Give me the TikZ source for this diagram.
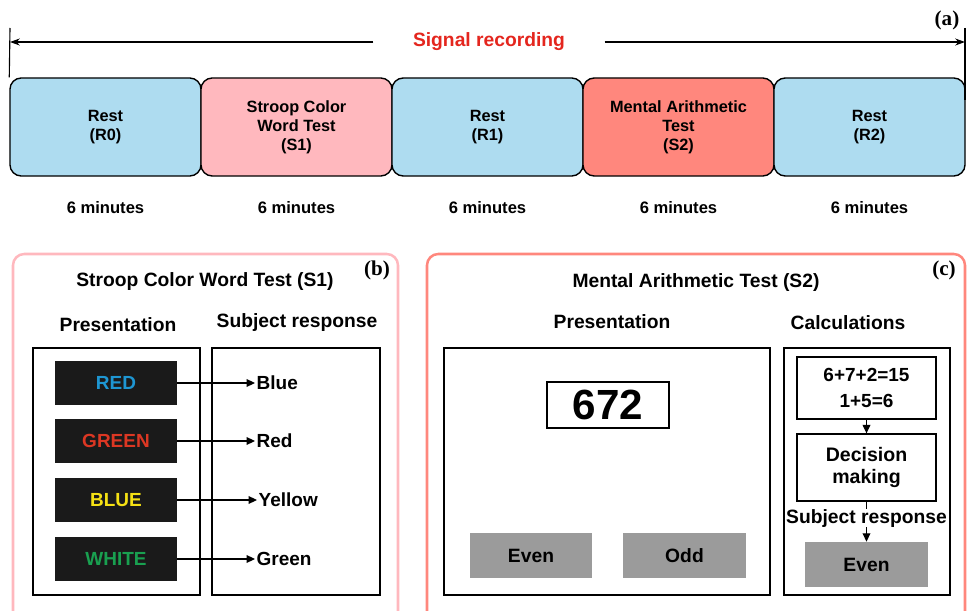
\documentclass[tikz,border=0pt]{standalone}
\usepackage{fontspec}
\setmainfont{Liberation Sans}
\newfontfamily\tagfont{Liberation Serif}
\usetikzlibrary{arrows.meta,positioning}

\definecolor{restblue}{RGB}{174,220,240}
\definecolor{stroopPink}{RGB}{255,184,190}
\definecolor{mathRed}{RGB}{255,135,125}
\definecolor{signalRed}{RGB}{228,38,30}
\definecolor{inkBlack}{RGB}{26,26,26}
\definecolor{inkBlue}{RGB}{30,150,210}
\definecolor{inkRed}{RGB}{220,55,35}
\definecolor{inkYellow}{RGB}{245,225,20}
\definecolor{inkGreen}{RGB}{25,160,80}
\definecolor{keyGray}{RGB}{155,155,155}

\begin{document}
\begin{tikzpicture}[
    x=0.025cm, y=-0.025cm,
    every node/.style={font=\bfseries},
    phase/.style={draw, line width=1pt, rounded corners=8pt, minimum width=4.775cm, minimum height=2.45cm, align=center, font=\bfseries\fontsize{11.6}{13.5}\selectfont},
    minutes/.style={font=\bfseries\fontsize{11.8}{14}\selectfont},
    heading/.style={font=\bfseries\fontsize{13.7}{16}\selectfont},
    tag/.style={font=\tagfont\bfseries\fontsize{15}{17}\selectfont},
    frame/.style={draw, line width=0.9pt},
    inkbox/.style={fill=inkBlack, minimum width=3.05cm, minimum height=1.1cm, font=\bfseries\fontsize{13.5}{16}\selectfont},
    resp/.style={anchor=west, inner sep=1pt, font=\bfseries\fontsize{13.5}{16}\selectfont},
    keybox/.style={fill=keyGray, minimum width=3.05cm, minimum height=1.125cm, font=\bfseries\fontsize{13.7}{16}\selectfont},
    calcbox/.style={draw, line width=0.9pt, minimum width=3.475cm, align=center},
    link/.style={draw, line width=0.8pt, -{Triangle[length=6pt,width=5.5pt]}}
]
\useasboundingbox (0,0) rectangle (968,611);

% (a) signal recording
\node[phase, fill=restblue] (r0) at (105.5,127) {Rest\\(R0)};
\node[phase, fill=stroopPink] (s1) at (296.5,127) {Stroop Color\\Word Test\\(S1)};
\node[phase, fill=restblue] (r1) at (487.5,127) {Rest\\(R1)};
\node[phase, fill=mathRed] (s2) at (678.5,127) {Mental Arithmetic\\Test\\(S2)};
\node[phase, fill=restblue] (r2) at (869.5,127) {Rest\\(R2)};

\node[minutes] at (105.5,208) {6 minutes};
\node[minutes] at (296.5,208) {6 minutes};
\node[minutes] at (487.5,208) {6 minutes};
\node[minutes] at (678.5,208) {6 minutes};
\node[minutes] at (869.5,208) {6 minutes};

\coordinate (recL) at (10,42);
\coordinate (recR) at (965,42);
\node[text=signalRed, inner xsep=28pt, font=\bfseries\fontsize{13.7}{16}\selectfont] (sig) at (489,42) {Signal recording};
\draw[line width=0.8pt, -{Stealth[length=7pt,width=5pt]}] (sig.west) -- (recL);
\draw[line width=0.8pt, -{Stealth[length=7pt,width=5pt]}] (sig.east) -- (recR);
\draw[line width=0.8pt] (10,28) -- (r0.north west);
\draw[line width=0.8pt] (965,28) -- (965,100);
\node[tag] (taga) at (947,20) {(a)};

% (b) stroop test
\draw[stroopPink, line width=1.8pt, rounded corners=8pt] (13,254) rectangle (398,640);
\node[heading] (titleb) at (205,282) {Stroop Color Word Test (S1)};
\node[tag] (tagb) at (377,270) {(b)};
\node[heading] (presb) at (118,325) {Presentation};
\node[heading] (respb) at (297,323) {Subject response};
\draw[frame] (33,348) rectangle (200,595);
\draw[frame] (212,348) rectangle (380,595);

\node[inkbox, text=inkBlue] (wRed) at (116,383) {RED};
\node[inkbox, text=inkRed] (wGreen) at (116,441) {GREEN};
\node[inkbox, text=inkYellow] (wBlue) at (116,500) {BLUE};
\node[inkbox, text=inkGreen] (wWhite) at (116,559) {WHITE};

\node[resp] (aBlue) at (255,383) {Blue};
\node[resp] (aRed) at (255,441) {Red};
\node[resp] (aYellow) at (257,500) {Yellow};
\node[resp] (aGreen) at (255,559) {Green};

\path[link] (wRed) -- (aBlue);
\path[link] (wGreen) -- (aRed);
\path[link] (wBlue) -- (aYellow);
\path[link] (wWhite) -- (aGreen);

% (c) mental arithmetic
\draw[mathRed, line width=1.8pt, rounded corners=8pt] (427,254) rectangle (965,640);
\node[heading] (titlec) at (696,283) {Mental Arithmetic Test (S2)};
\node[tag] (tagc) at (944,270) {(c)};
\node[heading] (presc) at (612,322) {Presentation};
\node[heading] (calc) at (848,323) {Calculations};
\draw[frame] (444,348) rectangle (770,595);
\draw[frame] (784,348) rectangle (950,595);

\node[draw, line width=0.9pt, minimum width=3.05cm, minimum height=1.15cm, font=\bfseries\fontsize{30}{32}\selectfont] (num) at (608,405) {672};
\node[keybox] (keyEven) at (531,555.5) {Even};
\node[keybox] (keyOdd) at (684.5,555.5) {Odd};

\node[calcbox, minimum height=1.55cm, font=\bfseries\fontsize{13.5}{19}\selectfont] (sums) at (866.5,388) {6+7+2=15\\1+5=6};
\node[calcbox, minimum height=1.675cm, font=\bfseries\fontsize{13.9}{15.5}\selectfont] (decide) at (866.5,467.5) {Decision\\making};
\node[keybox, minimum width=3.075cm] (answer) at (866.5,564.5) {Even};

\path[link] (sums) -- (decide);
\path[link] (decide) -- (answer) node[pos=0.42, fill=white, inner sep=0pt, font=\bfseries\fontsize{13.7}{16}\selectfont] (subj) {Subject response};

\end{tikzpicture}
\end{document}
